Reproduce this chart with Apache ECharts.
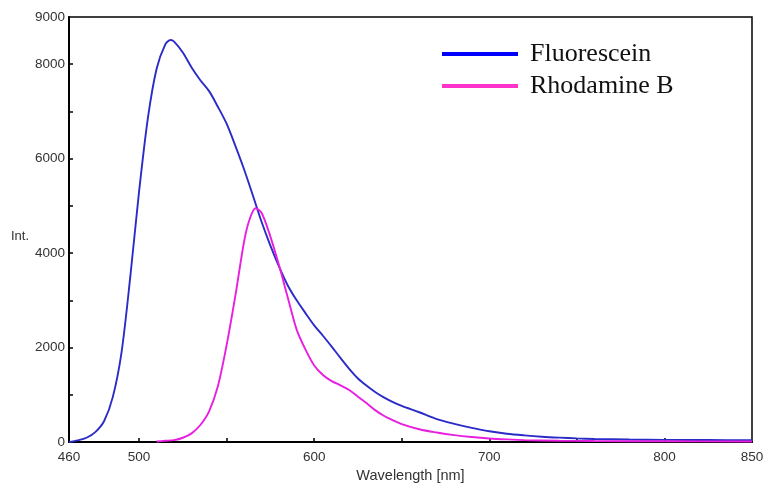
<!DOCTYPE html>
<html>
<head>
<meta charset="utf-8">
<script src="https://cdn.jsdelivr.net/npm/echarts@6/dist/echarts.min.js"></script>
<style>html,body{margin:0;padding:0;background:#fff}#c{width:764px;height:483px}</style>
</head>
<body>
<div id="c"></div>
<script>
// Fluorescein emission spectrum (wavelength nm, intensity)
const fluoWl  = [460,465,470,475,480,485,490,495,500,505,510,515,518,520,525,530,535,540,545,550,555,560,565,570,575,580,585,590,595,600,605,610,615,620,625,630,635,640,645,650,660,670,680,690,700,710,720,730,740,750,760,780,800,825,850];
const fluoInt = [0,35,90,210,440,950,1900,3500,5300,6850,7900,8420,8513,8480,8250,7930,7660,7430,7100,6740,6270,5770,5220,4660,4160,3710,3310,3000,2730,2470,2250,2020,1780,1550,1345,1190,1055,940,845,765,630,485,385,300,228,175,140,112,92,76,65,52,45,41,40];
// Rhodamine B emission spectrum
const rhoWl  = [510,515,520,525,530,535,540,545,550,555,560,563,566.5,570,575,580,585,590,595,600,605,610,615,620,625,630,635,640,645,650,660,670,680,690,700,710,720,740,760,800,850];
const rhoInt = [10,25,40,90,183,360,650,1180,2050,3100,4250,4700,4950,4850,4350,3730,3050,2380,1960,1620,1420,1290,1200,1100,960,820,670,550,460,380,270,200,145,105,75,55,40,28,20,15,12];
// axis ticks and labels
const xLabels = [460,500,600,700,800,850];
const xTicks  = [500,550,600,650,700,750,800];
const yLabels = [0,2000,4000,6000,8000,9000];
const yTicks  = [1000,2000,3000,4000,5000,6000,7000,8000];
const seriesNames = ['Fluorescein','Rhodamine B'];
const lineColors = ['#2b2bc8','#e81ee0'];
const legendColors = ['#0000ff','#ff33cc'];

const zip = (a,b) => a.map((v,i)=>[v,b[i]]);
const chart = echarts.init(document.getElementById('c'), null, {renderer:'canvas'});
const labelStyle = {color:'#333', fontFamily:'Liberation Sans, Arial, sans-serif', fontSize:13.5, formatter: v => String(v)};
chart.setOption({
  animation:false,
  backgroundColor:'#fff',
  grid:{left:69, right:12, top:17, bottom:41, outerBoundsMode:'none', containLabel:false, show:true, borderColor:'#000', borderWidth:1.5, backgroundColor:'transparent'},
  legend:{
    orient:'vertical', left:437, top:31, itemWidth:76, itemHeight:4, itemGap:-4, icon:'rect',
    data: seriesNames.map((n,i)=>({name:n, itemStyle:{color:legendColors[i]}})),
    textStyle:{fontFamily:'Liberation Serif, Times New Roman, serif', fontSize:26, color:'#111', lineHeight:26, padding:[0,0,10,7]}
  },
  xAxis:{
    type:'value', min:460, max:850,
    name:'Wavelength [nm]', nameLocation:'middle', nameGap:21,
    nameTextStyle:{color:'#333', fontFamily:'Liberation Sans, Arial, sans-serif', fontSize:14.5},
    axisLine:{show:true, lineStyle:{color:'#000', width:2}},
    axisTick:{show:true, inside:true, length:4, customValues:xTicks, lineStyle:{color:'#000', width:1.5}},
    axisLabel:Object.assign({customValues:xLabels, margin:8}, labelStyle),
    splitLine:{show:false}
  },
  yAxis:{
    type:'value', min:0, max:9000,
    name:'Int.', nameLocation:'middle', nameGap:39, nameRotate:0,
    nameTextStyle:{color:'#333', fontFamily:'Liberation Sans, Arial, sans-serif', fontSize:13, verticalAlign:'top'},
    axisLine:{show:true, lineStyle:{color:'#000', width:2}},
    axisTick:{show:true, inside:true, length:4, customValues:yTicks, lineStyle:{color:'#000', width:1.5}},
    axisLabel:Object.assign({customValues:yLabels, margin:4}, labelStyle),
    splitLine:{show:false}
  },
  series:[
    {name:seriesNames[0], type:'line', data:zip(fluoWl,fluoInt), smooth:0.3, showSymbol:false, color:lineColors[0], lineStyle:{width:1.9, color:lineColors[0]}},
    {name:seriesNames[1], type:'line', data:zip(rhoWl,rhoInt), smooth:0.3, showSymbol:false, color:lineColors[1], lineStyle:{width:1.9, color:lineColors[1]}}
  ]
});
</script>
</body>
</html>
